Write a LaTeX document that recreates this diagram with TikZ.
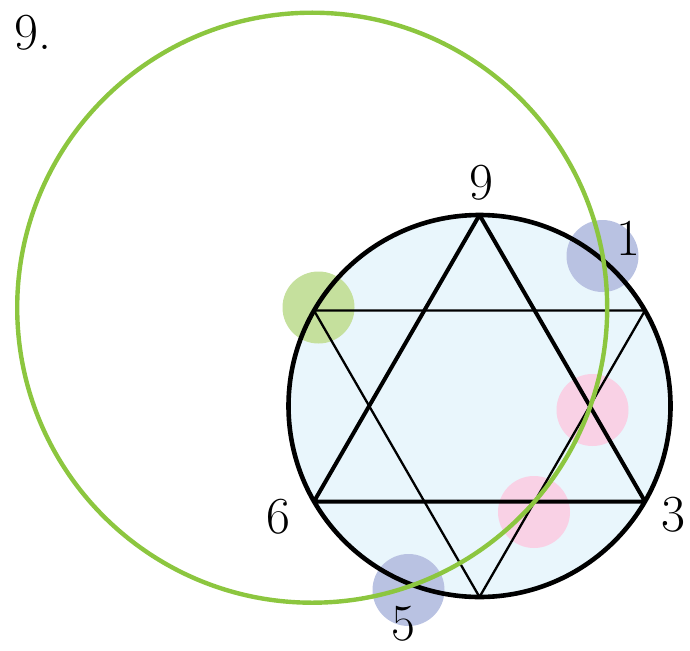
\documentclass[tikz,border=0pt]{standalone}
\begin{document}
\begin{tikzpicture}[x=1pt,y=-1pt,
  dot/.style={circle,inner sep=0pt,minimum size=72pt},
  lbl/.style={font=\fontsize{52}{54}\selectfont,inner sep=0pt},
  thickline/.style={line width=4pt,line join=round},
  thinline/.style={line width=2.3pt,line join=round}]
\definecolor{fillblue}{HTML}{E9F6FC}
\definecolor{dotblue}{HTML}{B9C2E2}
\definecolor{dotpink}{HTML}{F9D1E5}
\definecolor{dotgreen}{HTML}{C5E09D}
\definecolor{ringgreen}{HTML}{8CC63F}
\useasboundingbox (0,0) rectangle (690,650);
\coordinate (C) at (479.5,406);
\fill[fillblue] (C) circle[radius=191];
\node[dot,fill=dotgreen] (dg) at (318.5,307.5) {};
\node[dot,fill=dotblue] (d1) at (602.5,256) {};
\node[dot,fill=dotpink] (dp1) at (592.5,410) {};
\node[dot,fill=dotpink] (dp2) at (534,512) {};
\node[dot,fill=dotblue] (d5) at (408.5,590) {};
\coordinate (v9) at (479.5,215);
\coordinate (v3) at (645,501.5);
\coordinate (v6) at (314,501.5);
\coordinate (w5) at (479.5,597);
\coordinate (wl) at (314,310.5);
\coordinate (wr) at (645,310.5);
\draw[thinline] (wl) -- (wr) -- (w5) -- cycle;
\draw[thickline] (v9) -- (v3) -- (v6) -- cycle;
\draw[line width=4.6pt] (C) circle[radius=191];
\draw[ringgreen,line width=4.4pt] (312.2,307.7) circle[radius=295];
\node[lbl] (t9) at (481,183) {9};
\node[lbl] (t1) at (628,238) {1};
\node[lbl] (t3) at (673,515) {3};
\node[lbl] (t6) at (278,517) {6};
\node[lbl] (t5) at (403,624) {5};
\node[lbl,anchor=west] (title) at (14,33) {9.};
\end{tikzpicture}
\end{document}
